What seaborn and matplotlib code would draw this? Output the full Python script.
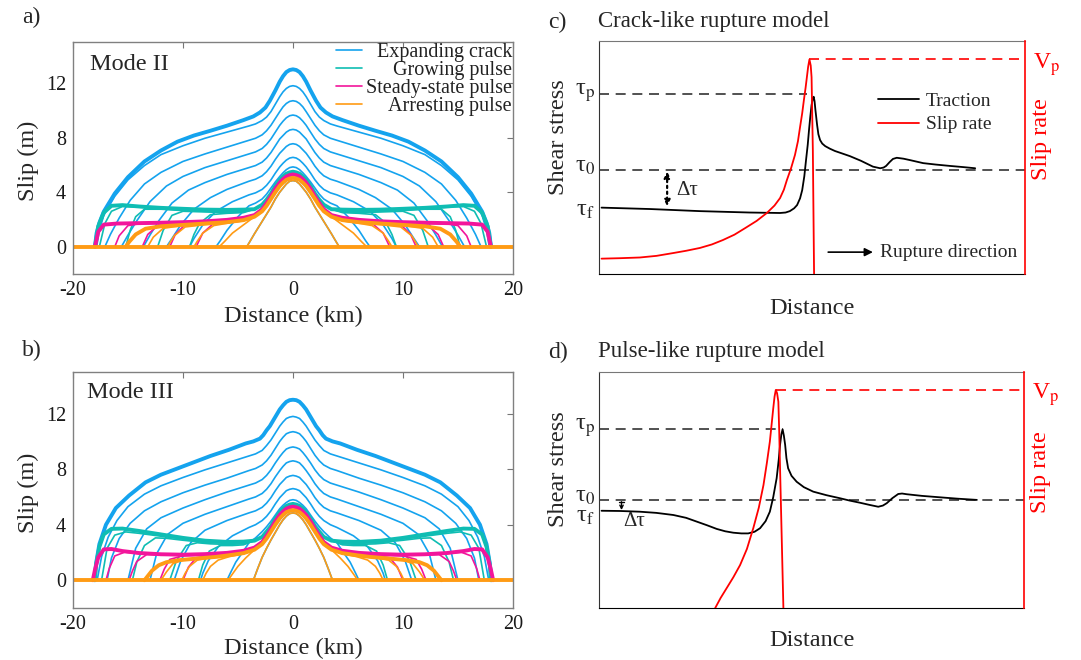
import matplotlib
matplotlib.use("Agg")
import matplotlib.pyplot as plt
from matplotlib.transforms import ScaledTranslation
import seaborn as sns

sns.set_style("white")
plt.rcParams['font.family'] = ['Liberation Serif', 'DejaVu Serif']
plt.rcParams['mathtext.fontset'] = 'stix'
plt.rcParams['axes.unicode_minus'] = False

# ---------------- colours ----------------
C_CRACK = "#14a3ee"
C_GROW = "#0fbdb3"
C_STEADY = "#f2159b"
C_ARREST = "#ff9b14"

# =============== Panel a (Mode II): right halves of symmetric slip profiles ===============
# distance (km) / slip (m)
a_seed_x = [0, 0.3, 0.6, 0.9, 1.2, 1.6, 2.0, 2.5, 3.0, 3.5, 3.9, 4.2]
a_seed_y = [4.85, 4.8, 4.6, 4.3, 4.0, 3.5, 2.9, 2.25, 1.6, 0.95, 0.4, 0]

a_crack_core_x = [0, 0.3, 0.6, 0.9, 1.2, 1.6, 2.0, 2.4, 2.8, 3.4, 4.0]
a_crack_core_y = [
    [5.85, 5.8, 5.65, 5.42, 5.15, 4.75, 4.3, 3.85, 3.5, 3.2, 3.0],
    [6.55, 6.5, 6.35, 6.12, 5.85, 5.4, 4.9, 4.5, 4.2, 3.95, 3.8],
    [7.55, 7.5, 7.35, 7.1, 6.85, 6.4, 5.9, 5.5, 5.2, 4.95, 4.8],
    [8.6, 8.55, 8.4, 8.15, 7.9, 7.4, 6.9, 6.5, 6.2, 5.95, 5.8],
    [9.65, 9.6, 9.45, 9.2, 8.9, 8.4, 7.9, 7.5, 7.2, 6.95, 6.8],
    [10.7, 10.65, 10.5, 10.25, 9.9, 9.4, 8.9, 8.5, 8.2, 7.95, 7.8],
    [11.8, 11.75, 11.6, 11.35, 11.0, 10.45, 9.9, 9.5, 9.25, 9.0, 8.85],
]
a_crack_tail_x = [
    [5.0, 6.0, 6.6, 7.0],
    [5.5, 7.0, 8.2, 9.0, 9.4],
    [6.0, 7.5, 9.0, 10.2, 11.0, 11.5],
    [6.0, 8.0, 9.5, 11.0, 12.2, 13.0, 13.6],
    [6.0, 8.0, 10.0, 11.5, 13.0, 14.2, 15.0, 15.6],
    [6.0, 8.0, 10.0, 12.0, 13.5, 14.8, 15.8, 16.6, 17.1],
    [6.0, 8.0, 10.0, 12.0, 13.5, 15.0, 16.2, 17.2, 17.6, 17.85],
]
a_crack_tail_y = [
    [2.2, 1.2, 0.45, 0],
    [3.3, 2.6, 1.6, 0.6, 0],
    [4.2, 3.6, 2.75, 1.6, 0.6, 0],
    [5.3, 4.7, 4.15, 3.2, 1.9, 0.85, 0],
    [6.3, 5.8, 5.15, 4.45, 3.3, 1.9, 0.85, 0],
    [7.3, 6.8, 6.25, 5.45, 4.6, 3.4, 2.1, 0.9, 0],
    [8.4, 7.95, 7.4, 6.75, 5.95, 4.9, 3.7, 2.3, 1.2, 0],
]
a_env_x = [0, 0.3, 0.6, 0.9, 1.2, 1.6, 2.1, 2.5, 3.0, 3.6, 4.5, 6.0, 7.5, 9.0, 10.5, 12.0,
           13.5, 15.0, 16.2, 17.2, 17.6, 17.85, 18.0]
a_env_y = [13.0, 12.95, 12.8, 12.5, 12.1, 11.45, 10.7, 10.2, 9.84, 9.55, 9.28, 8.87, 8.5, 8.15,
           7.7, 7.05, 6.25, 5.1, 3.9, 2.57, 1.75, 1.0, 0]

a_grow_core_x = [0, 0.3, 0.6, 0.9, 1.2, 1.6, 2.0, 2.4, 2.8, 3.5]
a_grow_core_y = [5.5, 5.45, 5.35, 5.15, 4.9, 4.45, 3.9, 3.45, 3.08, 2.75]
a_grow_tail_x = [
    [4.5, 6.0, 7.5, 8.5, 9.0, 9.4],
    [4.5, 6.0, 8.0, 10.0, 11.0, 11.8, 12.3],
    [4.5, 6.0, 8.0, 10.0, 12.0, 13.5, 14.3, 14.8, 15.2],
    [4.5, 6.0, 8.0, 10.0, 12.0, 14.0, 15.5, 16.5, 17.1, 17.6],
    [4.5, 6.0, 8.0, 10.0, 12.0, 14.0, 15.5, 16.5, 17.2, 17.7, 18.0],
]
a_grow_tail_y = [
    [2.5, 2.45, 2.35, 1.7, 0.9, 0],
    [2.55, 2.5, 2.55, 2.6, 2.3, 1.2, 0],
    [2.6, 2.55, 2.6, 2.65, 2.75, 2.75, 2.2, 1.2, 0],
    [2.62, 2.6, 2.62, 2.7, 2.8, 2.9, 2.95, 2.6, 1.7, 0],
    [2.72, 2.7, 2.72, 2.78, 2.85, 2.95, 3.05, 3.0, 2.5, 1.5, 0],
]

a_steady_core_x = [0, 0.3, 0.6, 0.9, 1.2, 1.6, 2.0, 2.4, 2.8, 3.5]
a_steady_core_y = [5.3, 5.25, 5.15, 4.95, 4.7, 4.25, 3.7, 3.2, 2.75, 2.32]
a_steady_tail_x = [
    [4.5, 6.0, 7.3, 8.2, 8.8],
    [4.5, 6.0, 8.0, 9.8, 10.7, 11.2],
    [4.5, 6.0, 8.0, 10.0, 12.2, 13.2, 13.7],
    [4.5, 6.0, 8.0, 10.0, 12.0, 14.0, 15.0, 15.8, 16.2],
    [4.5, 6.0, 8.0, 10.0, 12.0, 14.0, 16.0, 17.2, 17.7, 18.0],
]
a_steady_tail_y = [
    [2.05, 1.85, 1.65, 1.0, 0],
    [2.08, 1.92, 1.78, 1.62, 0.9, 0],
    [2.1, 1.93, 1.8, 1.74, 1.62, 0.9, 0],
    [2.1, 1.95, 1.83, 1.76, 1.72, 1.68, 1.55, 0.8, 0],
    [2.12, 1.97, 1.86, 1.8, 1.76, 1.73, 1.7, 1.62, 1.1, 0],
]

a_arrest_core_x = [0, 0.3, 0.6, 0.9, 1.2, 1.6, 2.0, 2.4, 2.8, 3.5]
a_arrest_core_y = [5.05, 5.0, 4.9, 4.7, 4.45, 4.0, 3.5, 3.0, 2.6, 2.2]
a_arrest_tail_x = [
    [4.5, 5.5, 6.2, 6.7],
    [4.5, 6.0, 7.2, 8.2, 8.7, 9.0],
    [4.5, 6.0, 8.0, 9.8, 10.8, 11.4],
    [4.5, 6.0, 8.0, 10.0, 11.8, 12.7, 13.2],
    [4.5, 6.0, 8.0, 10.0, 12.0, 13.4, 14.3, 14.9, 15.2],
]
a_arrest_tail_y = [
    [1.6, 1.0, 0.4, 0],
    [1.9, 1.72, 1.55, 1.0, 0.4, 0],
    [1.92, 1.76, 1.62, 1.45, 0.8, 0],
    [1.94, 1.78, 1.66, 1.56, 1.35, 0.7, 0],
    [1.95, 1.8, 1.7, 1.6, 1.5, 1.32, 0.9, 0.35, 0],
]

# =============== Panel b (Mode III) ===============
b_seed_x = [0, 0.3, 0.6, 0.9, 1.2, 1.6, 2.0, 2.4, 2.8, 3.2, 3.6]
b_seed_y = [4.85, 4.8, 4.62, 4.35, 4.0, 3.45, 2.9, 2.3, 1.65, 0.85, 0]

b_crack_core_x = [0, 0.3, 0.6, 0.9, 1.2, 1.6, 2.0, 2.4, 2.8, 3.4, 4.0]
b_crack_core_y = [
    [5.8, 5.75, 5.6, 5.4, 5.15, 4.7, 4.25, 3.85, 3.5, 3.05, 2.7],
    [6.6, 6.55, 6.45, 6.2, 5.95, 5.5, 5.0, 4.6, 4.3, 4.0, 3.8],
    [7.55, 7.5, 7.4, 7.15, 6.9, 6.45, 5.95, 5.55, 5.25, 5.0, 4.85],
    [8.6, 8.55, 8.45, 8.2, 7.9, 7.45, 6.95, 6.55, 6.25, 6.0, 5.85],
    [9.6, 9.55, 9.45, 9.2, 8.9, 8.45, 7.95, 7.55, 7.25, 7.0, 6.85],
    [10.7, 10.65, 10.55, 10.3, 10.0, 9.5, 9.0, 8.6, 8.3, 8.05, 7.9],
    [11.8, 11.75, 11.65, 11.4, 11.1, 10.6, 10.1, 9.7, 9.35, 9.1, 8.95],
]
b_crack_tail_x = [
    [4.5, 5.2, 5.7, 6.0],
    [5.5, 6.8, 7.7, 8.2, 8.4],
    [6.0, 8.0, 9.3, 10.2, 10.8],
    [6.0, 8.0, 10.0, 11.4, 12.4, 13.0],
    [6.0, 8.0, 10.0, 12.0, 13.3, 14.3, 15.0],
    [6.0, 8.0, 10.0, 12.0, 13.5, 14.8, 15.8, 16.5, 16.9],
    [6.0, 8.0, 10.0, 12.0, 13.5, 15.0, 16.0, 16.8, 17.4, 17.8],
]
b_crack_tail_y = [
    [2.1, 1.3, 0.5, 0],
    [3.2, 2.4, 1.4, 0.5, 0],
    [4.3, 3.6, 2.7, 1.4, 0],
    [5.3, 4.75, 4.1, 3.3, 1.9, 0],
    [6.35, 5.8, 5.2, 4.5, 3.7, 2.3, 0],
    [7.35, 6.85, 6.3, 5.65, 5.0, 4.1, 3.0, 1.6, 0],
    [8.45, 7.95, 7.4, 6.8, 6.2, 5.3, 4.3, 3.1, 1.7, 0],
]
b_env_x = [0, 0.3, 0.6, 0.9, 1.2, 1.5, 1.8, 2.1, 2.4, 2.7, 3.0, 3.6, 4.3, 5.8, 7.5, 9.0, 10.5,
           12.0, 13.4, 14.9, 16.1, 17.0, 17.6, 17.9, 18.05]
b_env_y = [13.0, 12.97, 12.85, 12.6, 12.3, 11.9, 11.5, 11.1, 10.8, 10.45, 10.2, 10.0, 9.85, 9.4,
           8.95, 8.5, 8.05, 7.6, 7.05, 6.1, 5.2, 4.0, 2.6, 1.2, 0]

b_grow_core_x = [0, 0.3, 0.6, 0.9, 1.2, 1.6, 2.0, 2.4, 2.8, 3.5]
b_grow_core_y = [5.5, 5.45, 5.35, 5.15, 4.9, 4.45, 3.9, 3.5, 3.12, 2.85]
b_grow_tail_x = [
    [4.5, 5.5, 6.6, 7.6, 8.2, 8.6],
    [4.5, 6.0, 7.5, 8.7, 9.7, 10.6, 11.2],
    [4.5, 6.0, 8.0, 10.0, 11.5, 12.5, 13.5, 14.2, 14.6],
    [4.5, 6.0, 8.0, 10.0, 12.0, 14.0, 15.2, 16.2, 16.9, 17.4],
    [4.5, 6.0, 8.0, 10.0, 12.0, 14.0, 15.5, 16.5, 17.2, 17.6, 17.9, 18.0],
]
b_grow_tail_y = [
    [2.55, 2.5, 2.5, 2.1, 1.1, 0],
    [2.62, 2.58, 2.62, 2.7, 2.5, 1.4, 0],
    [2.7, 2.66, 2.72, 2.88, 3.02, 3.05, 2.5, 1.3, 0],
    [2.74, 2.72, 2.8, 2.97, 3.17, 3.38, 3.48, 3.25, 2.3, 0],
    [2.78, 2.76, 2.85, 3.05, 3.3, 3.55, 3.72, 3.7, 3.3, 2.4, 1.1, 0],
]

b_steady_core_x = [0, 0.3, 0.6, 0.9, 1.2, 1.6, 2.0, 2.4, 2.8, 3.5]
b_steady_core_y = [5.3, 5.25, 5.15, 4.95, 4.7, 4.25, 3.7, 3.2, 2.75, 2.35]
b_steady_tail_x = [
    [4.5, 6.0, 7.5, 8.8, 9.5, 10.0],
    [4.5, 6.0, 8.0, 10.0, 11.2, 11.7, 12.1],
    [4.5, 6.0, 8.0, 10.0, 12.0, 13.3, 14.2, 14.6, 14.9],
    [4.5, 6.0, 8.0, 10.0, 12.0, 14.0, 15.3, 16.2, 16.7, 17.0],
    [4.5, 6.0, 8.0, 10.0, 12.0, 14.0, 15.5, 16.5, 17.2, 17.7, 18.0, 18.2],
]
b_steady_tail_y = [
    [2.08, 1.9, 1.78, 1.62, 0.95, 0],
    [2.1, 1.92, 1.8, 1.76, 1.5, 0.8, 0],
    [2.1, 1.93, 1.82, 1.78, 1.82, 1.85, 1.35, 0.65, 0],
    [2.1, 1.94, 1.84, 1.8, 1.83, 1.92, 2.02, 1.75, 0.85, 0],
    [2.12, 1.97, 1.88, 1.84, 1.87, 1.96, 2.1, 2.25, 2.22, 1.65, 0.75, 0],
]

b_arrest_core_x = [0, 0.3, 0.6, 0.9, 1.2, 1.6, 2.0, 2.4, 2.8, 3.5]
b_arrest_core_y = [5.05, 5.0, 4.9, 4.7, 4.45, 4.0, 3.5, 3.0, 2.6, 2.2]
b_arrest_tail_x = [
    [4.3, 5.0, 5.5, 5.9],
    [4.5, 5.8, 6.8, 7.5, 7.9, 8.2],
    [4.5, 6.0, 7.5, 8.7, 9.4, 9.8, 10.1],
    [4.5, 6.0, 8.0, 9.8, 10.9, 11.5, 12.0],
    [4.5, 5.8, 7.0, 8.5, 10.4, 11.5, 12.2, 12.8, 13.2, 13.5],
]
b_arrest_tail_y = [
    [1.6, 1.0, 0.45, 0],
    [1.9, 1.7, 1.45, 1.0, 0.5, 0],
    [1.92, 1.75, 1.62, 1.45, 1.0, 0.5, 0],
    [1.94, 1.78, 1.62, 1.5, 1.2, 0.6, 0],
    [1.95, 1.8, 1.68, 1.58, 1.44, 1.3, 1.08, 0.7, 0.3, 0],
]

fault_x = [-20, 20]
fault_y = [0, 0]
slip_xticks = [-20, -10, 0, 10, 20]
slip_yticks = [0, 4, 8, 12]
legend_labels = ["Expanding crack", "Growing pulse", "Steady-state pulse", "Arresting pulse"]

# =============== Panel c (crack-like, normalised units) ===============
c_trac_x = [0.6, 12, 23.7, 35.4, 42.5, 43.8, 44.8, 45.8, 46.5, 47.2, 47.7, 48.2, 48.6, 49.0, 49.3,
            49.6, 49.9, 50.2, 50.4, 50.6, 50.8, 51.2, 51.5, 51.9, 52.4, 53.1, 54.2, 55.4, 57.0,
            58.9, 61.5, 64.3, 66.0, 66.8, 67.4, 68.2, 69.0, 69.9, 71.5, 73.0, 76.1, 79.0, 82.4,
            85.5, 88.3]
c_trac_y = [28.5, 27.9, 27.0, 26.4, 26.2, 26.4, 27.0, 28.2, 29.6, 32.5, 36.0, 42.0, 48.9, 55.5,
            61.8, 67.5, 72.5, 75.5, 76.1, 74.2, 70.5, 64.0, 60.0, 57.5, 56.0, 54.9, 53.8, 52.8,
            51.8, 50.6, 48.6, 46.1, 45.4, 45.7, 46.4, 48.0, 49.4, 49.9, 49.5, 48.9, 47.6, 47.0,
            46.4, 45.9, 45.4]
c_rate_x = [0.6, 5.0, 9.6, 13.5, 17.4, 20.5, 23.7, 26.5, 29.1, 31.8, 34.3, 37.0, 39.4, 41.2, 42.5,
            43.4, 44.1, 45.1, 46.0, 46.7, 47.2, 47.7, 48.1, 48.5, 48.8, 49.1, 49.4, 49.7, 49.9,
            50.2, 50.5]
c_rate_y = [6.6, 6.8, 7.1, 7.8, 9.0, 10.0, 11.2, 12.7, 14.6, 16.9, 19.7, 22.8, 26.2, 29.4, 32.6,
            36.2, 40.3, 45.5, 51.1, 57.0, 63.1, 69.0, 74.7, 80.0, 84.5, 89.0, 92.1, 89.5, 84.5,
            53.2, -2]
c_levels = {"tau_p": 77.3, "tau_0": 44.5, "tau_f": 28.5, "V_p": 92.1}
c_peak_x = 49.4
c_taup_end = 48.8

# =============== Panel d (pulse-like) ===============
d_trac_x = [0.6, 5.0, 9.6, 13.5, 17.5, 20.5, 23.0, 25.5, 27.7, 29.7, 31.6, 33.5, 35.1, 36.6, 37.9,
            39.2, 40.2, 41.0, 41.8, 42.3, 42.6, 42.9, 43.2, 43.5, 43.8, 44.1, 44.5, 45.3, 46.5,
            48.2, 50.4, 53.5, 56.7, 59.0, 61.4, 63.6, 65.7, 66.8, 67.7, 69.0, 70.4, 71.3, 72.4,
            76.0, 80.2, 84.5, 88.9]
d_trac_y = [41.2, 41.1, 40.8, 40.3, 39.4, 38.2, 36.6, 35.0, 33.5, 32.5, 31.9, 31.6, 31.6, 32.3,
            33.8, 36.8, 40.8, 47.0, 55.0, 63.0, 69.1, 73.5, 75.7, 73.0, 69.1, 63.5, 59.2, 56.0,
            53.5, 51.2, 49.3, 47.8, 46.5, 45.5, 44.6, 43.7, 42.9, 43.4, 44.4, 46.5, 48.3, 48.5,
            48.2, 47.5, 46.9, 46.3, 45.8]
d_rate_x = [27.2, 28.6, 30.0, 31.6, 33.2, 34.8, 36.3, 37.6, 38.7, 39.5, 40.2, 40.6, 41.0, 41.3,
            41.6, 41.9, 42.2, 42.4, 42.6, 43.4]
d_rate_y = [-0.5, 4.2, 8.3, 13.0, 18.2, 25.0, 33.8, 42.5, 52.1, 61.5, 70.5, 77.5, 84.6, 89.5,
            92.4, 91.0, 87.4, 75.0, 59.2, -1]
d_levels = {"tau_p": 75.7, "tau_0": 45.6, "tau_f": 41.2, "V_p": 92.4}
d_peak_x = 41.6
d_taup_end = 43.2


def mirror(xs, ys):
    fx = [-v for v in xs[::-1]] + list(xs[1:])
    fy = list(ys[::-1]) + list(ys[1:])
    return fx, fy


def draw_curve(ax, xs, ys, color, lw):
    fx, fy = mirror(xs, ys)
    sns.lineplot(x=fx, y=fy, ax=ax, color=color, lw=lw, sort=False, estimator=None, legend=False)
    return ax.lines[-1]


def draw_family(ax, xs_list, ys_list, color, lw_thin=1.2, lw_thick=2.8):
    handle = None
    n = len(xs_list)
    for i, (xs, ys) in enumerate(zip(xs_list, ys_list)):
        h = draw_curve(ax, xs, ys, color, lw_thick if i == n - 1 else lw_thin)
        if i == 0:
            handle = h
    return handle


def join(core_x, core_y, tails_x, tails_y):
    if core_y and isinstance(core_y[0], list):
        ys = [cy + t for cy, t in zip(core_y, tails_y)]
    else:
        ys = [core_y + t for t in tails_y]
    return [core_x + t for t in tails_x], ys


def slip_panel(ax, seed, crack, env, grow, steady, arrest, mode_text, tx, ty, xlab_y):
    cx, cy = crack
    h1 = draw_family(ax, [seed[0]] + cx + [env[0]], [seed[1]] + cy + [env[1]], C_CRACK)
    h2 = draw_family(ax, grow[0], grow[1], C_GROW)
    h3 = draw_family(ax, steady[0], steady[1], C_STEADY)
    h4 = draw_family(ax, [seed[0]] + arrest[0], [seed[1]] + arrest[1], C_ARREST)
    sns.lineplot(x=fault_x, y=fault_y, ax=ax, color=C_ARREST, lw=2.8, estimator=None, legend=False)
    ax.set_xlim(-20, 20)
    ax.set_ylim(-2, 15)
    ax.set_xticks(slip_xticks)
    ax.set_yticks(slip_yticks)
    ax.tick_params(direction='in', top=True, right=True, length=4, width=0.8,
                   color='#777777', labelsize=14.5, labelcolor='#1a1a1a', pad=5)
    for s in ax.spines.values():
        s.set_color('#808080')
        s.set_linewidth(1.0)
    ax.set_xlabel("Distance (km)", fontsize=17.5)
    ax.set_ylabel("Slip (m)", fontsize=17.5)
    ax.xaxis.set_label_coords(0.5, xlab_y)
    ax.xaxis.label.set_va('center')
    ax.yaxis.set_label_coords(-0.102, 0.49)
    ax.yaxis.label.set_va('center')
    ax.text(tx, ty, mode_text, transform=ax.transAxes, fontsize=17.5, va='center', ha='left')
    return [h1, h2, h3, h4]


def stress_panel(ax, trac_x, trac_y, rate_x, rate_y, lv, peak_x, taup_end, ylab_y, rlab_y,
                 xlab_y, legend=False):
    ax.set_xlim(0, 100)
    ax.set_ylim(0, 100)
    dash = (0, (6, 4))
    ax.hlines(lv["tau_p"], 0, taup_end, colors='#333333', lw=1.2, linestyles=[dash])
    ax.hlines(lv["tau_0"], 0, 100, colors='#333333', lw=1.2, linestyles=[dash])
    sns.lineplot(x=trac_x, y=trac_y, ax=ax, color='black', lw=1.3, sort=False,
                 estimator=None, legend=False)
    h_tr = ax.lines[-1]
    ax.set_yticks([lv["tau_f"], lv["tau_0"], lv["tau_p"]])
    ax.set_yticklabels([r"τ$_\mathrm{f}$", r"τ$_\mathrm{0}$", r"τ$_\mathrm{p}$"])
    ax.set_xticks([])
    ax.tick_params(axis='y', length=0, labelsize=17.5, pad=3)
    ax.set_ylabel("Shear stress", fontsize=17.5)
    ax.set_xlabel("Distance", fontsize=17.5)
    ax.yaxis.set_label_coords(-0.096, ylab_y)
    ax.yaxis.label.set_va('center')
    ax.xaxis.set_label_coords(0.5, xlab_y)
    ax.xaxis.label.set_va('center')
    ax.spines['left'].set_color('#333333')
    ax.spines['bottom'].set_color('black')
    ax.spines['top'].set_color('#777777')
    ax.spines['right'].set_visible(False)

    ax2 = ax.twinx()
    ax2.set_ylim(0, 100)
    ax2.hlines(lv["V_p"], peak_x, 100, colors='red', lw=1.2, linestyles=[dash])
    sns.lineplot(x=rate_x, y=rate_y, ax=ax2, color='red', lw=1.3, sort=False,
                 estimator=None, legend=False)
    h_sr = ax2.lines[-1]
    ax2.set_yticks([lv["V_p"]])
    ax2.set_yticklabels([r"V$_\mathrm{p}$"])
    ax2.tick_params(axis='y', length=0, labelsize=17, labelcolor='red', pad=6)
    ax2.set_ylabel("Slip rate", fontsize=17.5, color='red')
    ax2.yaxis.set_label_coords(1.038, rlab_y)
    ax2.yaxis.label.set_va('center')
    for k in ['left', 'top', 'bottom']:
        ax2.spines[k].set_visible(False)
    ax2.spines['right'].set_color('red')
    ax2.spines['right'].set_linewidth(1.2)
    if legend:
        ax2.legend([h_tr, h_sr], ["Traction", "Slip rate"], loc='upper left',
                   bbox_to_anchor=(0.655, 0.78), frameon=False, fontsize=14,
                   handlelength=2.1, handletextpad=0.35, labelspacing=0.3,
                   borderpad=0, borderaxespad=0)
    return ax2


fig = plt.figure(figsize=(10.81, 6.6), dpi=100)
ax_a = fig.add_axes([0.0675, 0.5848, 0.407, 0.3515])
ax_b = fig.add_axes([0.0675, 0.0788, 0.407, 0.3576])
ax_c = fig.add_axes([0.5541, 0.5848, 0.3941, 0.3530])
ax_d = fig.add_axes([0.5541, 0.0788, 0.3932, 0.3576])

handles = slip_panel(
    ax_a, (a_seed_x, a_seed_y),
    join(a_crack_core_x, a_crack_core_y, a_crack_tail_x, a_crack_tail_y),
    (a_env_x, a_env_y),
    join(a_grow_core_x, a_grow_core_y, a_grow_tail_x, a_grow_tail_y),
    join(a_steady_core_x, a_steady_core_y, a_steady_tail_x, a_steady_tail_y),
    join(a_arrest_core_x, a_arrest_core_y, a_arrest_tail_x, a_arrest_tail_y),
    "Mode II", 0.039, 0.905, -0.183)
slip_panel(
    ax_b, (b_seed_x, b_seed_y),
    join(b_crack_core_x, b_crack_core_y, b_crack_tail_x, b_crack_tail_y),
    (b_env_x, b_env_y),
    join(b_grow_core_x, b_grow_core_y, b_grow_tail_x, b_grow_tail_y),
    join(b_steady_core_x, b_steady_core_y, b_steady_tail_x, b_steady_tail_y),
    join(b_arrest_core_x, b_arrest_core_y, b_arrest_tail_x, b_arrest_tail_y),
    "Mode III", 0.031, 0.912, -0.17)

leg = ax_a.legend(handles, legend_labels, loc='upper right', bbox_to_anchor=(1.0, 1.0),
                  frameon=False, fontsize=14.5, handlelength=1.3, handletextpad=0.2,
                  labelspacing=-0.05, borderpad=0.0, borderaxespad=0.05)
for t in leg.get_texts():
    t.set_color('#222222')

stress_panel(ax_c, c_trac_x, c_trac_y, c_rate_x, c_rate_y, c_levels, c_peak_x, c_taup_end,
             0.588, 0.58, -0.146, legend=True)
stress_panel(ax_d, d_trac_x, d_trac_y, d_rate_x, d_rate_y, d_levels, d_peak_x, d_taup_end,
             0.589, 0.576, -0.136)

# delta tau markers
ax_c.annotate('', xy=(16, c_levels["tau_f"] + 0.6), xytext=(16, c_levels["tau_0"] - 0.5),
              arrowprops=dict(arrowstyle='<|-|>', linestyle=':', lw=1.6, color='black',
                              mutation_scale=9, shrinkA=0, shrinkB=0))
ax_c.text(18.2, 36, "Δτ", fontsize=15, va='center', ha='left')
ax_c.annotate('', xy=(64.3, 9.4), xytext=(53.8, 9.4),
              arrowprops=dict(arrowstyle='-|>', lw=1.2, color='black', mutation_scale=12,
                              shrinkA=0, shrinkB=0))
ax_c.text(66, 9.4, "Rupture direction", fontsize=14, va='center', ha='left')

ax_d.annotate('', xy=(5.3, d_levels["tau_f"] + 0.3), xytext=(5.3, d_levels["tau_0"] - 0.6),
              arrowprops=dict(arrowstyle=']->, widthA=0.35, lengthA=0', lw=1.0, color='black',
                              mutation_scale=6, shrinkA=0, shrinkB=0))
ax_d.text(5.6, 36.6, "Δτ", fontsize=15, va='center', ha='left')

# panel labels and titles
fig.text(22 / 1081, 1 - 17 / 660, "a)", fontsize=17, va='center', ha='left')
fig.text(22 / 1081, 1 - 350 / 660, "b)", fontsize=17, va='center', ha='left')
fig.text(548 / 1081, 1 - 22 / 660, "c)", fontsize=17, va='center', ha='left')
fig.text(548 / 1081, 1 - 352 / 660, "d)", fontsize=17, va='center', ha='left')
fig.text(598 / 1081, 1 - 22 / 660, "Crack-like rupture model", fontsize=16.5, va='center', ha='left')
fig.text(598 / 1081, 1 - 352 / 660, "Pulse-like rupture model", fontsize=16.5, va='center', ha='left')

# raise the tau_0 / tau_p labels slightly so the subscript sits on the line;
# in panel d nudge tau_f down a little (as in the reference)
for axx, f_shift in ((ax_c, 0.0), (ax_d, -2.5)):
    labs = axx.get_yticklabels()
    labs[0].set_transform(labs[0].get_transform()
                          + ScaledTranslation(0, f_shift / 72, fig.dpi_scale_trans))
    for lab in labs[1:]:
        lab.set_transform(lab.get_transform() + ScaledTranslation(0, 4.5 / 72, fig.dpi_scale_trans))

# right-align legend labels in panel a
fig.canvas.draw()
r = fig.canvas.get_renderer()
widths = [t.get_window_extent(r).width for t in leg.get_texts()]
wmax = max(widths)
for t, w in zip(leg.get_texts(), widths):
    t.set_x(wmax - w)

fig.savefig("out.png", dpi=100)
